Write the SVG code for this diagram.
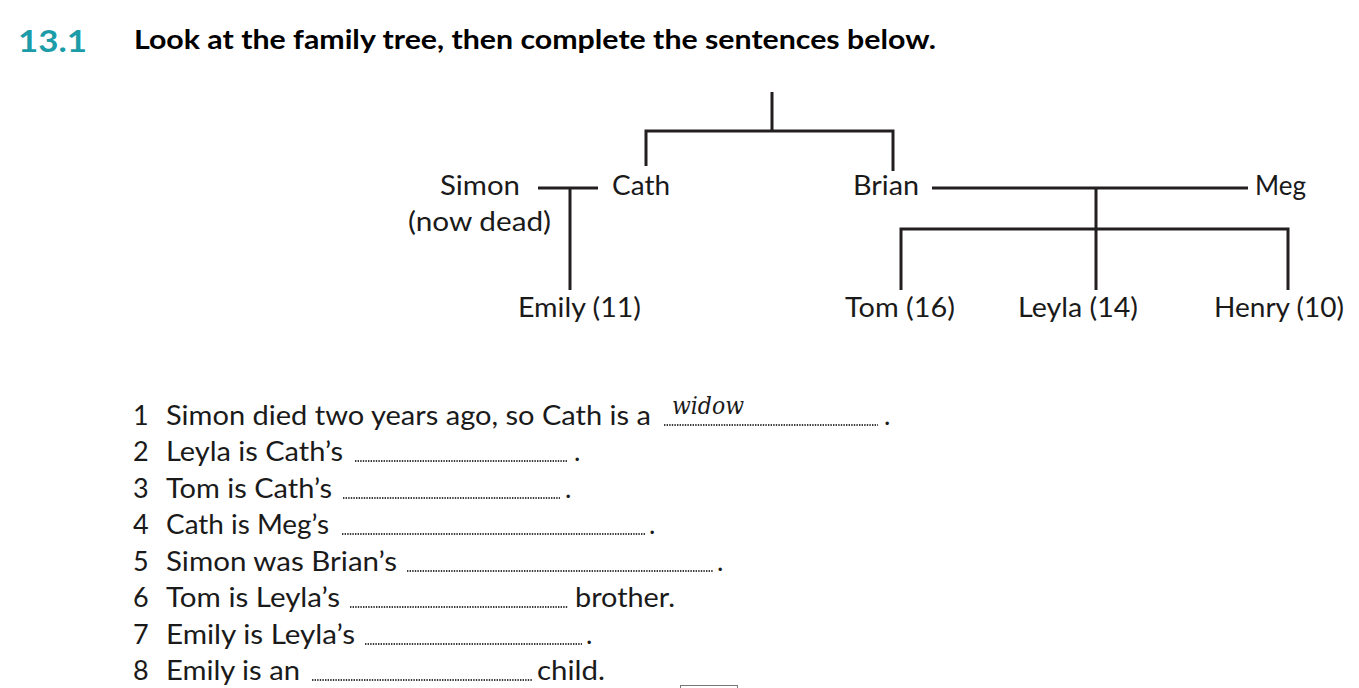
<svg xmlns="http://www.w3.org/2000/svg" width="1359" height="688" viewBox="0 0 1359 688">
<style>
.t{font-family:Lato,"Open Sans","Noto Sans",sans-serif;font-size:27px;fill:#1a1a1a}
.h{font-family:Lato,"Open Sans",sans-serif;font-weight:bold;font-size:27px;fill:#000}
.num{font-family:Lato,"Open Sans",sans-serif;font-weight:bold;font-size:31px;fill:#1c9ca8}
.c{fill:none;stroke:#231f20;stroke-width:3;stroke-linecap:butt;stroke-linejoin:miter}
.d{fill:none;stroke:#3a3a3a;stroke-width:2.2;stroke-dasharray:1.4 1.2}
.hw{font-family:"DejaVu Serif","Liberation Serif",serif;font-style:italic;font-size:24px;fill:#1a1a1a}
</style>
<rect width="1359" height="688" fill="#fff"/>
<text class="num" x="18" y="52" textLength="69" lengthAdjust="spacingAndGlyphs">13.1</text>
<text class="h" x="134" y="49" textLength="802" lengthAdjust="spacingAndGlyphs">Look at the family tree, then complete the sentences below.</text>
<g id="connectors">
<path class="c" d="M772 92V131M646 166V131H893V171"/>
<path class="c" d="M538 188H598M570 188V290"/>
<path class="c" d="M932 188H1248M1096 188V290M901 290V229H1288V290"/>
</g>
<g id="simon"><text class="t" x="440" y="195" textLength="80" lengthAdjust="spacingAndGlyphs">Simon</text><text class="t" x="408" y="231" textLength="143" lengthAdjust="spacingAndGlyphs">(now dead)</text></g>
<g id="cath"><text class="t" x="612" y="195" textLength="58" lengthAdjust="spacingAndGlyphs">Cath</text></g>
<g id="brian"><text class="t" x="853" y="195" textLength="66" lengthAdjust="spacingAndGlyphs">Brian</text></g>
<g id="meg"><text class="t" x="1255" y="195" textLength="51" lengthAdjust="spacingAndGlyphs">Meg</text></g>
<g id="emily"><text class="t" x="518" y="317" textLength="123" lengthAdjust="spacingAndGlyphs">Emily (11)</text></g>
<g id="tom"><text class="t" x="845" y="317" textLength="110" lengthAdjust="spacingAndGlyphs">Tom (16)</text></g>
<g id="leyla"><text class="t" x="1018" y="317" textLength="120" lengthAdjust="spacingAndGlyphs">Leyla (14)</text></g>
<g id="henry"><text class="t" x="1214" y="317" textLength="130" lengthAdjust="spacingAndGlyphs">Henry (10)</text></g>
<g id="sentences">
<text class="t" x="133" y="425">1</text><text class="t" x="166" y="425" textLength="485" lengthAdjust="spacingAndGlyphs">Simon died two years ago, so Cath is a</text>
<text class="hw" x="672" y="414" textLength="72" lengthAdjust="spacingAndGlyphs">widow</text>
<path class="d" d="M664 425H878"/><text class="t" x="884" y="425">.</text>
<text class="t" x="133" y="461">2</text><text class="t" x="166" y="461" textLength="177" lengthAdjust="spacingAndGlyphs">Leyla is Cath’s</text>
<path class="d" d="M355 461H568"/><text class="t" x="574" y="461">.</text>
<text class="t" x="133" y="498">3</text><text class="t" x="166" y="498" textLength="166" lengthAdjust="spacingAndGlyphs">Tom is Cath’s</text>
<path class="d" d="M343 498H560"/><text class="t" x="565" y="498">.</text>
<text class="t" x="133" y="534">4</text><text class="t" x="166" y="534" textLength="163" lengthAdjust="spacingAndGlyphs">Cath is Meg’s</text>
<path class="d" d="M342 534H645"/><text class="t" x="649" y="534">.</text>
<text class="t" x="133" y="571">5</text><text class="t" x="166" y="571" textLength="231" lengthAdjust="spacingAndGlyphs">Simon was Brian’s</text>
<path class="d" d="M407 571H713"/><text class="t" x="717" y="571">.</text>
<text class="t" x="133" y="607">6</text><text class="t" x="166" y="607" textLength="174" lengthAdjust="spacingAndGlyphs">Tom is Leyla’s</text>
<path class="d" d="M350 607H568"/><text class="t" x="575" y="607" textLength="100" lengthAdjust="spacingAndGlyphs">brother.</text>
<text class="t" x="133" y="644">7</text><text class="t" x="166" y="644" textLength="189" lengthAdjust="spacingAndGlyphs">Emily is Leyla’s</text>
<path class="d" d="M365 644H582"/><text class="t" x="586" y="644">.</text>
<text class="t" x="133" y="680">8</text><text class="t" x="166" y="680" textLength="134" lengthAdjust="spacingAndGlyphs">Emily is an</text>
<path class="d" d="M312 680H532"/><text class="t" x="537" y="680" textLength="68" lengthAdjust="spacingAndGlyphs">child.</text>
</g>
<rect x="680.5" y="685.5" width="57" height="10" fill="none" stroke="#777" stroke-width="1"/>
</svg>
